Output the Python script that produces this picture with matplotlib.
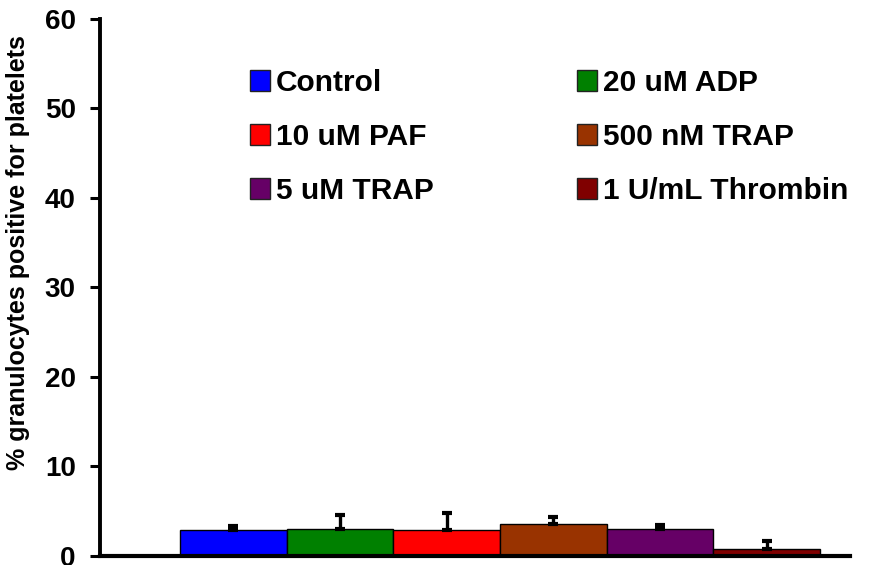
import matplotlib.pyplot as plt
from matplotlib.patches import Patch
import numpy as np

plt.rcParams['font.family'] = ['Liberation Sans', 'DejaVu Sans']
plt.rcParams['font.weight'] = 'bold'

# data
conditions = ['Control', '20 uM ADP', '10 uM PAF', '500 nM TRAP', '5 uM TRAP', '1 U/mL Thrombin']
means = [2.8, 3.0, 2.8, 3.5, 3.0, 0.75]
errs = [0.45, 1.5, 1.9, 0.85, 0.45, 0.9]
colors = ['#0000FF', '#008000', '#FF0000', '#993300', '#660066', '#800000']
yticks = [0, 10, 20, 30, 40, 50, 60]

fig = plt.figure(figsize=(8.89, 5.65), dpi=100)
ax = fig.add_axes([100 / 889, 9.5 / 565, 750 / 889, 536.5 / 565])

x = np.arange(len(conditions))
ax.bar(x, means, width=1.0, color=colors, edgecolor='black', linewidth=1.0, zorder=2)
ax.errorbar(x, means, yerr=[np.zeros(len(errs)), errs], fmt='none', ecolor='black',
            elinewidth=2.4, capsize=3.6, capthick=3, zorder=3)

ax.set_xlim(-0.5 - 0.75, len(conditions) - 0.5 + 0.28)
ax.set_ylim(0, 60)
ax.set_yticks(yticks)
ax.set_xticks([])
ax.tick_params(axis='y', direction='out', length=7.5, width=2.2, labelsize=20, pad=10)
for lab in ax.get_yticklabels():
    lab.set_fontweight('bold')
for side in ['top', 'right']:
    ax.spines[side].set_visible(False)
ax.spines['left'].set_linewidth(2.8)
ax.spines['bottom'].set_linewidth(3)
ax.set_ylabel('% granulocytes positive for platelets', fontsize=18, fontweight='bold')
ax.yaxis.set_label_coords(-0.093, 0.565)

handles = [Patch(facecolor=c, edgecolor='#222222', linewidth=1) for c in colors]
order = [0, 2, 4, 1, 3, 5]
ax.legend([handles[i] for i in order], [conditions[i] for i in order], ncol=2,
          loc='upper left', bbox_to_anchor=(235 / 889, 1 - 54 / 565), bbox_transform=fig.transFigure,
          frameon=False, fontsize=21.5, handlelength=0.67, handleheight=0.67,
          handletextpad=0.2, labelspacing=0.87, columnspacing=4.8, borderpad=0)

fig.savefig('out.png', dpi=100)
